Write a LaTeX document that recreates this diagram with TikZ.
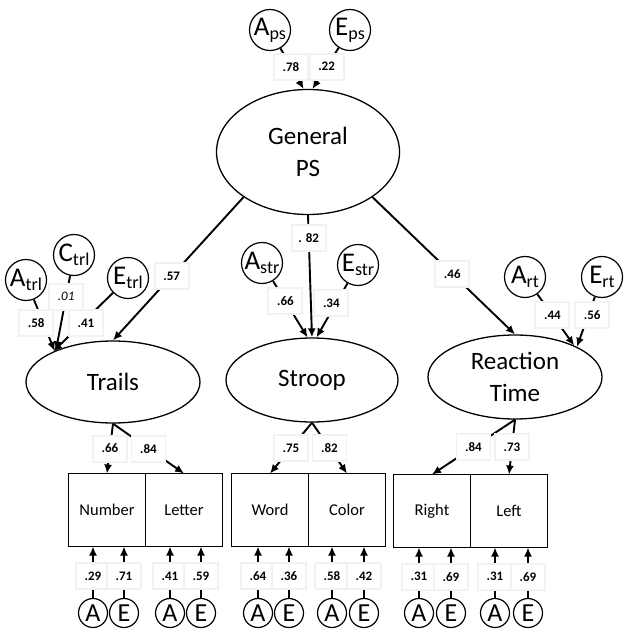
\documentclass[tikz,border=0pt]{standalone}
\usepackage{fontspec}
\setmainfont{Carlito}
\usetikzlibrary{shapes.geometric, arrows.meta, positioning}
\newcommand{\acelbl}[2]{{\fontsize{27}{27}\selectfont #1}\raisebox{-4pt}{\fontsize{18}{18}\selectfont #2}}

\begin{document}
\begin{tikzpicture}[
        x = 1pt, y = -1pt,
        lat/.style = {draw, line width=1.3pt, ellipse, inner sep=0pt, align=center, font=\fontsize{25}{32}\selectfont},
        obs/.style = {draw, line width=1.3pt, rectangle, minimum width=77pt, minimum height=73pt, outer sep=0pt, font=\fontsize{16.5}{16.5}\selectfont},
        ace/.style = {draw, line width=1.2pt, circle, minimum size=41pt, inner sep=0pt},
        acesm/.style = {draw, line width=1.2pt, circle, minimum size=29pt, inner sep=0pt, font=\fontsize{26}{26}\selectfont},
        arr/.style = {line width=1.9pt, -{Latex[length=9pt, width=8pt]}},
        wt/.style = {fill=white, draw=black!5, minimum width=34pt, minimum height=26pt, inner sep=1pt, font=\fontsize{13}{13}\selectfont\bfseries}
    ]
    \useasboundingbox (0,0) rectangle (628,636);
    %--- Latent factors ---%
        \node (gps) [lat, minimum width=183pt, minimum height=125pt] at (308,152) {General\\PS};
        \node (trl) [lat, minimum width=174pt, minimum height=82pt] at (113,382) {Trails};
        \node (str) [lat, minimum width=172pt, minimum height=84pt] at (312,380) {Stroop};
        \node (rt) [lat, minimum width=174pt, minimum height=84pt] at (515,377) {Reaction\\Time};
    %--- ACE of the factors ---%
        \node (aps) [ace] at (270,30) {\acelbl{A}{ps}};
        \node (eps) [ace] at (350,30) {\acelbl{E}{ps}};
        \node (atrl) [ace] at (26,280) {\acelbl{A}{trl}};
        \node (ctrl) [ace] at (74,255) {\acelbl{C}{trl}};
        \node (etrl) [ace] at (128,278) {\acelbl{E}{trl}};
        \node (astr) [ace] at (262,263) {\acelbl{A}{str}};
        \node (estr) [ace] at (358,265) {\acelbl{E}{str}};
        \node (art) [ace] at (525,277) {\acelbl{A}{rt}};
        \node (ert) [ace] at (602,277) {\acelbl{E}{rt}};
    %--- Measures ---%
        \node (nmb) [obs] at (107,510) {Number};
        \node (ltr) [obs, right=0pt of nmb] {Letter};
        \node (wrd) [obs] at (270,510) {Word};
        \node (clr) [obs, right=0pt of wrd] {Color};
        \node (rgt) [obs] at (432,511) {Right};
        \node (lft) [obs, right=0pt of rgt] {Left};
    %--- ACE of the measures ---%
        \node (nmba) [acesm] at (93,613) {A};
        \node (nmbe) [acesm] at (124,613) {E};
        \node (ltra) [acesm] at (170,613) {A};
        \node (ltre) [acesm] at (201,613) {E};
        \node (wrda) [acesm] at (258,613) {A};
        \node (wrde) [acesm] at (289,613) {E};
        \node (clra) [acesm] at (332,613) {A};
        \node (clre) [acesm] at (364,613) {E};
        \node (rgta) [acesm] at (419,613) {A};
        \node (rgte) [acesm] at (451,613) {E};
        \node (lfta) [acesm] at (495,613) {A};
        \node (lfte) [acesm] at (528,613) {E};
    %--- General PS ---%
        \draw[arr] (aps) -- node[wt, pos=.45]{.78} (gps.94);
        \draw[arr] (eps) -- node[wt, pos=.46]{.22} (gps.86);
        \draw[arr] (gps.215) -- node[wt, pos=.55]{.57} (trl.north);
        \draw[arr] (gps.south) -- node[wt, pos=.19]{. 82} (str.north);
        \draw[arr] (gps.-35) -- node[wt, pos=.56]{.46} (rt.north);
    %--- Trails ---%
        \draw[arr] (atrl) -- node[wt, pos=.45, xshift=-7pt]{.58} (trl.152);
        \draw[arr] (ctrl) -- node[wt, pos=.28, font=\fontsize{13}{13}\selectfont\itshape]{.01} (trl.151);
        \draw[arr] (etrl) -- node[wt, pos=.52, xshift=4pt]{.41} (trl.153);
        \draw[arr] (trl.south) -- node[wt]{.66} (nmb.north);
        \draw[arr] (trl.south) -- node[wt]{.84} (ltr.north);
    %--- Stroop ---%
        \draw[arr] (astr) -- node[wt, pos=.36]{.66} (str.96);
        \draw[arr] (estr) -- node[wt, pos=.36, xshift=-5pt]{.34} (str.84);
        \draw[arr] (str.south) -- node[wt]{.75} (wrd.north);
        \draw[arr] (str.south) -- node[wt]{.82} (clr.north);
    %--- Reaction Time ---%
        \draw[arr] (art) -- node[wt, pos=.41]{.44} (rt.28);
        \draw[arr] (ert) -- node[wt, pos=.37, xshift=4pt]{.56} (rt.26);
        \draw[arr] (rt.south) -- node[wt]{.84} (rgt.north);
        \draw[arr] (rt.south) -- node[wt]{.73} (lft.north);
    %--- Measure ACE ---%
        \draw[arr] (nmba) -- node[wt, pos=.42]{.29} (nmba |- nmb.south);
        \draw[arr] (nmbe) -- node[wt, pos=.42]{.71} (nmbe |- nmb.south);
        \draw[arr] (ltra) -- node[wt, pos=.42]{.41} (ltra |- ltr.south);
        \draw[arr] (ltre) -- node[wt, pos=.42]{.59} (ltre |- ltr.south);
        \draw[arr] (wrda) -- node[wt, pos=.42]{.64} (wrda |- wrd.south);
        \draw[arr] (wrde) -- node[wt, pos=.42]{.36} (wrde |- wrd.south);
        \draw[arr] (clra) -- node[wt, pos=.42]{.58} (clra |- clr.south);
        \draw[arr] (clre) -- node[wt, pos=.42]{.42} (clre |- clr.south);
        \draw[arr] (rgta) -- node[wt, pos=.42]{.31} (rgta |- rgt.south);
        \draw[arr] (rgte) -- node[wt, pos=.42]{.69} (rgte |- rgt.south);
        \draw[arr] (lfta) -- node[wt, pos=.42]{.31} (lfta |- lft.south);
        \draw[arr] (lfte) -- node[wt, pos=.42]{.69} (lfte |- lft.south);
\end{tikzpicture}
\end{document}
